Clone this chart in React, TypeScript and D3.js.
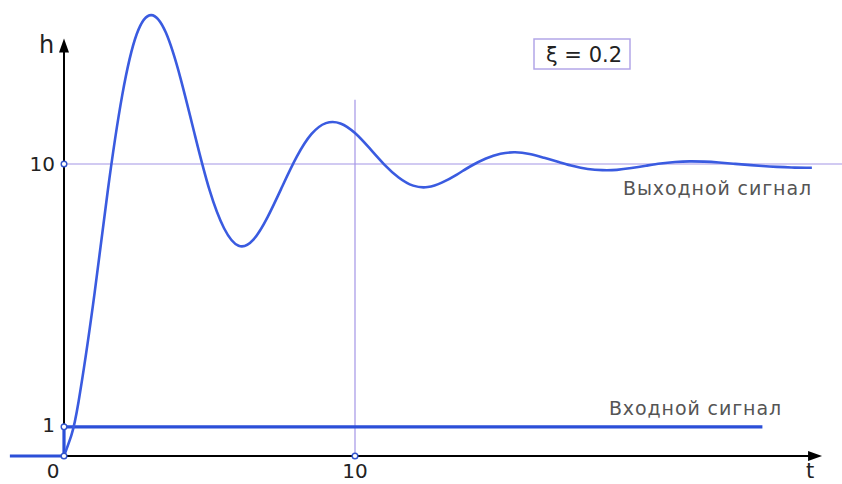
import React from "react";
import * as d3 from "d3";

// output signal h(t)
const outT = [0, 0.25, 0.5, 1, 1.5, 2, 2.5, 3, 3.5, 4, 4.5, 5, 5.5, 6, 6.5, 7, 7.5, 8, 8.5, 9, 9.5, 10, 10.5, 11, 11.5, 12, 12.5, 13, 13.5, 14, 14.5, 15, 15.5, 16, 16.5, 17, 17.5, 18, 18.5, 19, 19.5, 20, 20.5, 21, 21.5, 22, 22.5, 23, 23.5, 24, 24.5, 25, 25.5, 25.7];
const outH = [0, 0.7, 1.86, 5.2, 9.05, 12.35, 14.45, 15.1, 14.5, 12.95, 10.98, 9.11, 7.8, 7.2, 7.4, 8.19, 9.23, 10.25, 11.02, 11.4, 11.39, 11.06, 10.54, 9.99, 9.54, 9.26, 9.21, 9.37, 9.64, 9.94, 10.19, 10.35, 10.4, 10.34, 10.21, 10.07, 9.93, 9.83, 9.79, 9.8, 9.86, 9.94, 10.02, 10.07, 10.09, 10.08, 10.05, 10.01, 9.97, 9.93, 9.9, 9.88, 9.87, 9.87];

// input signal (unit step)
const inT = [-1.86, 0, 0, 24];
const inH = [0, 0, 1, 1];

const yTicks = [1, 10];
const xTicks = [10];
const setLevel = 10; // steady state guide
const xiLabel = "ξ = 0.2";

const W = 842;
const H = 484;

export default function App() {
  const x = d3.scaleLinear().domain([0, 10]).range([64, 355]);
  const y = d3.scaleLinear().domain([0, 10]).range([456, 164]);

  const outPts: [number, number][] = outT.map((t, i) => [t, outH[i]]);
  const inPts: [number, number][] = inT.map((t, i) => [t, inH[i]]);

  const outPath =
    d3
      .line<[number, number]>()
      .x((d) => x(d[0]))
      .y((d) => y(d[1]))
      .curve(d3.curveNatural)(outPts) || "";
  const inPath =
    d3
      .line<[number, number]>()
      .x((d) => x(d[0]))
      .y((d) => y(d[1]))(inPts) || "";

  const guide = "#a395e6";
  const blue = "#3a5be0";
  const font = "'DejaVu Sans', Verdana, sans-serif";

  const x0 = x(0);
  const y0 = y(0);
  const xEnd = x(26.05);
  const yTop = y(14.3);

  return (
    <svg
      width={W}
      height={H}
      style={{ position: "absolute", left: 0, top: 0, background: "#fff" }}
      fontFamily={font}
    >
      {/* guide lines */}
      <line x1={x0} x2={W} y1={y(setLevel)} y2={y(setLevel)} stroke={guide} strokeWidth={1.2} />
      <line x1={x(10)} x2={x(10)} y1={y0} y2={y(12.2)} stroke={guide} strokeWidth={1.2} />

      {/* axes */}
      <line x1={x0} x2={xEnd - 4} y1={y0} y2={y0} stroke="#000" strokeWidth={2} />
      <path d={`M${xEnd - 14},${y0 - 5} L${xEnd},${y0} L${xEnd - 14},${y0 + 5} Z`} fill="#000" />
      <line x1={x0} x2={x0} y1={y0} y2={yTop + 4} stroke="#000" strokeWidth={2} />
      <path d={`M${x0 - 5},${yTop + 14} L${x0},${yTop} L${x0 + 5},${yTop + 14} Z`} fill="#000" />

      {/* signals */}
      <path d={inPath} fill="none" stroke="#2b4fd8" strokeWidth={3.2} />
      <path d={outPath} fill="none" stroke={blue} strokeWidth={2.6} />

      {/* markers */}
      {yTicks.map((v) => (
        <circle key={"cy" + v} cx={x0} cy={y(v)} r={2.8} fill="#fff" stroke="#3355cc" strokeWidth={1.4} />
      ))}
      <circle cx={x0} cy={y0} r={2.8} fill="#fff" stroke="#3355cc" strokeWidth={1.4} />
      {xTicks.map((v) => (
        <circle key={"cx" + v} cx={x(v)} cy={y0} r={2.8} fill="#fff" stroke="#3355cc" strokeWidth={1.4} />
      ))}

      {/* tick labels */}
      {yTicks.map((v) => (
        <text key={"ty" + v} x={x0 - 9} y={y(v) - (v === 1 ? 2 : 0)} textAnchor="end" dominantBaseline="central" fontSize={20} fill="#222">
          {v}
        </text>
      ))}
      <text x={x0 - 11} y={478} textAnchor="middle" fontSize={20} fill="#222">0</text>
      {xTicks.map((v) => (
        <text key={"tx" + v} x={x(v)} y={478} textAnchor="middle" fontSize={20} fill="#222">
          {v}
        </text>
      ))}

      {/* axis names */}
      <text x={806} y={478} fontSize={21} fill="#222">t</text>
      <text x={39} y={53} fontSize={24} fill="#222">h</text>

      {/* series labels */}
      <text x={812} y={195} textAnchor="end" fontSize={19} fill="#555" letterSpacing={0.9}>
        Выходной сигнал
      </text>
      <text x={782} y={415} textAnchor="end" fontSize={19} fill="#555" letterSpacing={0.9}>
        Входной сигнал
      </text>

      {/* parameter box */}
      <rect x={534} y={39} width={96} height={30} fill="#fff" stroke="#b3a6e8" strokeWidth={1.5} />
      <text x={584} y={55} textAnchor="middle" dominantBaseline="central" fontSize={21} fill="#222">
        {xiLabel}
      </text>
    </svg>
  );
}
